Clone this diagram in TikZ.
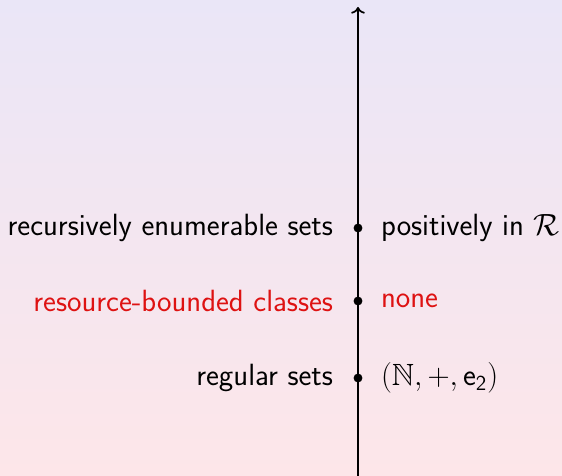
\documentclass[tikz,border=0pt]{standalone}
\usepackage{amsmath,amssymb}
\usepackage{xcolor}
\usepackage{tikz}
\usetikzlibrary{
  arrows.meta,
  positioning,
  calc
}
\definecolor{bgtop}{RGB}{234,230,247}
\definecolor{bgbot}{RGB}{253,230,233}
\definecolor{hlred}{RGB}{222,18,18}
\tikzset{
  lvl/.style={circle,fill=black,inner sep=0pt,minimum size=5pt},
  lbl/.style={font=\sffamily\fontsize{17.28}{21}\selectfont,inner sep=0pt}
}

\begin{document}
\begin{tikzpicture}[x=0.5629pt,y=0.5629pt]
  % Background
  \shade[top color=bgtop,bottom color=bgbot] (0,0) rectangle (562,476);
  \useasboundingbox (0,0) rectangle (562,476);
  % Axis
  \coordinate (bot) at (358,0);
  \coordinate (top) at (358,469);
  \draw[->,line width=0.96pt] (bot)--(top);
  % Levels
  \node[lvl] (re)  at (358,248) {};
  \node[lvl] (rb)  at (358,175) {};
  \node[lvl] (reg) at (358,98) {};
  % Labels
  \node[lbl,left=11.2pt of re]  {recursively enumerable sets};
  \node[lbl,right=10.1pt of re] {positively in $\mathcal{R}$};
  \node[lbl,text=hlred,left=11.2pt of rb]  {resource-bounded classes};
  \node[lbl,text=hlred,right=10.1pt of rb] {none};
  \node[lbl,left=11.2pt of reg]  {regular sets};
  \node[lbl,right=10.1pt of reg] {$(\mathbb{N},+,\mathsf{e}_{\mathsf{2}})$};
\end{tikzpicture}
\end{document}
